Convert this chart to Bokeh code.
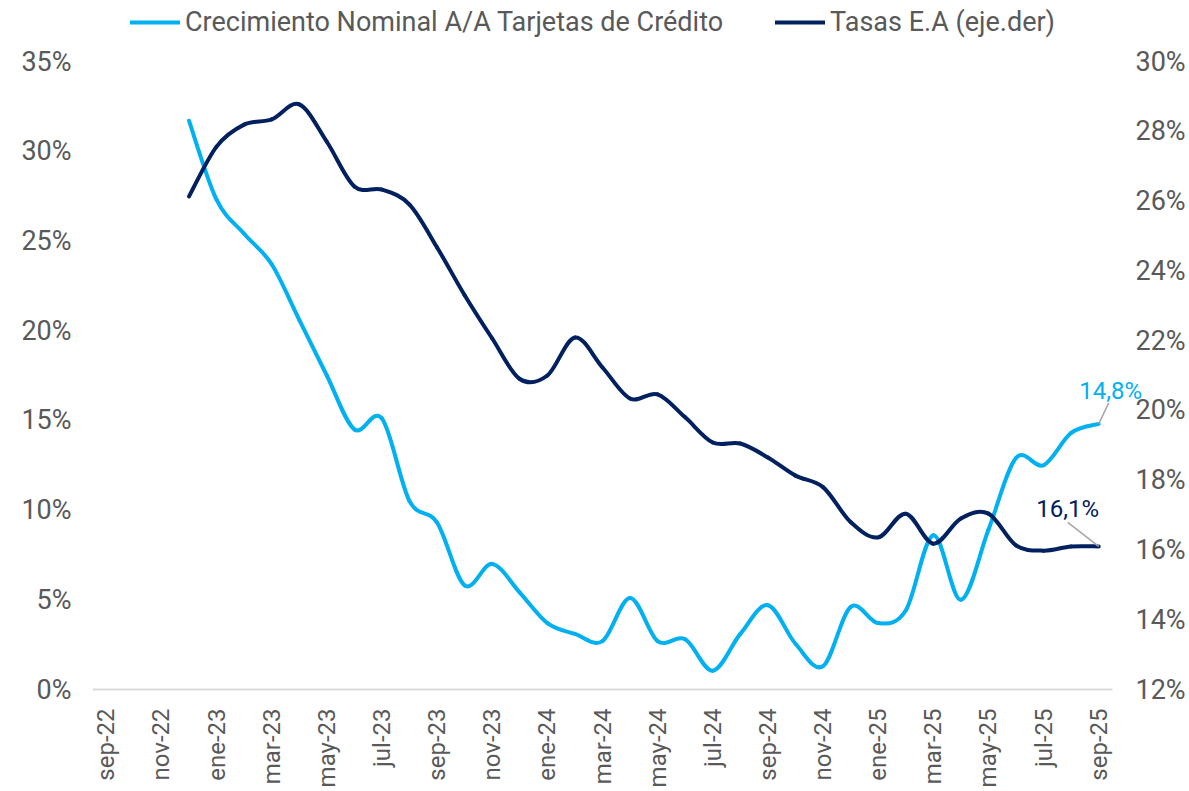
import numpy as np
from bokeh.plotting import figure
from bokeh.models import Range1d, LinearAxis, FixedTicker, PrintfTickFormatter, Legend, LegendItem
from bokeh.core.properties import value
from bokeh.embed import file_html
from bokeh.resources import INLINE

# ---------------- data ----------------
months = ["sep-22", "oct-22", "nov-22", "dic-22", "ene-23", "feb-23", "mar-23", "abr-23",
          "may-23", "jun-23", "jul-23", "ago-23", "sep-23", "oct-23", "nov-23", "dic-23",
          "ene-24", "feb-24", "mar-24", "abr-24", "may-24", "jun-24", "jul-24", "ago-24",
          "sep-24", "oct-24", "nov-24", "dic-24", "ene-25", "feb-25", "mar-25", "abr-25",
          "may-25", "jun-25", "jul-25", "ago-25", "sep-25"]
series_start = 3  # dic-22

crecimiento = [31.7, 27.3, 25.4, 23.7, 20.6, 17.5, 14.5, 15.1, 10.5, 9.3, 5.8, 7.0,
               5.4, 3.7, 3.1, 2.7, 5.1, 2.7, 2.8, 1.05, 3.1, 4.7, 2.55, 1.3,
               4.6, 3.7, 4.4, 8.6, 5.0, 8.9, 12.9, 12.5, 14.3, 14.8]

tasas = [26.13, 27.56, 28.19, 28.34, 28.77, 27.7, 26.42, 26.33, 25.9, 24.67, 23.3, 22.06,
         20.9, 21.0, 22.09, 21.23, 20.34, 20.46, 19.8, 19.08, 19.05, 18.65, 18.13, 17.8,
         16.8, 16.36, 17.04, 16.18, 16.9, 17.04, 16.13, 15.98, 16.1, 16.1]

name_a = "Crecimiento Nominal A/A Tarjetas de Crédito"
name_b = "Tasas E.A (eje.der)"

left_min, left_max = 0, 35
right_min, right_max = 12, 30
left_ticks = list(range(left_min, left_max + 1, 5))
right_ticks = list(range(right_min, right_max + 1, 2))

# ---------------- style / layout (pixels) ----------------
C_LIGHT = "#00B0F0"
C_DARK = "#002060"
TXT = "#595959"
FONT = "Roboto"

W, H = 1189, 791
AX_LEFT, AX_RIGHT, AX_TOP, AX_BOTTOM = 92, 1112, 61, 689   # visible axis box
FR_RIGHT, FR_TOP, FR_BOTTOM = 1150, 2, 691                  # drawing frame (room for labels)
ML, MR, MT, MB = AX_LEFT, W - FR_RIGHT, FR_TOP, H - FR_BOTTOM

ncat = len(months)
px_month = (AX_RIGHT - AX_LEFT) / ncat
px_left = (AX_BOTTOM - AX_TOP) / (left_max - left_min)
px_right = (AX_BOTTOM - AX_TOP) / (right_max - right_min)

x_lo = -0.5
x_hi = x_lo + (FR_RIGHT - AX_LEFT) / px_month
y_lo = left_min - (FR_BOTTOM - AX_BOTTOM) / px_left
y_hi = left_max + (AX_TOP - FR_TOP) / px_left
yr_lo = right_min - (FR_BOTTOM - AX_BOTTOM) / px_right
yr_hi = right_max + (AX_TOP - FR_TOP) / px_right

p = figure(width=W, height=H, output_backend="svg", toolbar_location=None,
           x_range=Range1d(x_lo, x_hi), y_range=Range1d(y_lo, y_hi),
           min_border_left=ML, min_border_right=MR, min_border_top=MT, min_border_bottom=MB)
p.extra_y_ranges = {"right": Range1d(yr_lo, yr_hi)}
p.outline_line_color = None
p.xgrid.visible = False
p.ygrid.visible = False
p.background_fill_color = "white"
p.border_fill_color = "white"


def smooth_segments(xs, ys):
    n = len(xs)
    d = {k: [] for k in ["x0", "y0", "x1", "y1", "cx0", "cy0", "cx1", "cy1"]}
    for i in range(n - 1):
        ip = max(i - 1, 0)
        inx = min(i + 2, n - 1)
        d["x0"].append(xs[i]); d["y0"].append(ys[i])
        d["x1"].append(xs[i + 1]); d["y1"].append(ys[i + 1])
        d["cx0"].append(xs[i] + (xs[i + 1] - xs[ip]) / 6.0)
        d["cy0"].append(ys[i] + (ys[i + 1] - ys[ip]) / 6.0)
        d["cx1"].append(xs[i + 1] - (xs[inx] - xs[i]) / 6.0)
        d["cy1"].append(ys[i + 1] - (ys[inx] - ys[i]) / 6.0)
    return d


# category baseline (horizontal axis line)
p.segment(x0=[-0.5], y0=[left_min], x1=[ncat - 0.5], y1=[left_min],
          line_color="#D9D9D9", line_width=2)

xs = list(range(series_start, series_start + len(crecimiento)))

sa = smooth_segments(xs, crecimiento)
ra = p.bezier(line_color=C_LIGHT, line_width=4, line_cap="round", line_join="round", **sa)
sb = smooth_segments(xs, tasas)
rb = p.bezier(line_color=C_DARK, line_width=4, line_cap="round", line_join="round",
              y_range_name="right", **sb)

# axes
xa = p.xaxis[0]
xa.ticker = FixedTicker(ticks=list(range(0, ncat, 2)))
xa.major_label_overrides = {i: months[i] for i in range(0, ncat, 2)}
xa.major_label_orientation = np.pi / 2
xa.axis_line_color = None
xa.major_tick_line_color = None
xa.minor_tick_line_color = None
xa.major_label_standoff = 11
xa.major_label_text_font = FONT
xa.major_label_text_font_size = "24px"
xa.major_label_text_color = TXT

ya = p.yaxis[0]
ya.ticker = FixedTicker(ticks=left_ticks)
ya.formatter = PrintfTickFormatter(format="%d%%")
ya.axis_line_color = None
ya.major_tick_line_color = None
ya.minor_tick_line_color = None
ya.major_label_standoff = 15
ya.major_label_text_font = FONT
ya.major_label_text_font_size = "27px"
ya.major_label_text_color = TXT

yr = LinearAxis(y_range_name="right", ticker=FixedTicker(ticks=right_ticks),
                formatter=PrintfTickFormatter(format="%d%%"))
yr.axis_line_color = None
yr.major_tick_line_color = None
yr.minor_tick_line_color = None
yr.major_label_standoff = -21
yr.major_label_text_font = FONT
yr.major_label_text_font_size = "27px"
yr.major_label_text_color = TXT
p.add_layout(yr, "right")

# end-of-series labels with leader lines
xl = xs[-1]
la = f"{crecimiento[-1]:.1f}".replace(".", ",") + "%"
lb = f"{tasas[-1]:.1f}".replace(".", ",") + "%"

p.segment(x0=[xl], y0=[crecimiento[-1]], x1=[xl + 10 / px_month], y1=[crecimiento[-1] + 21 / px_left],
          line_color="#A6A6A6", line_width=1.5)
p.segment(x0=[xl], y0=[tasas[-1]], x1=[xl - 31 / px_month], y1=[tasas[-1] + 24 / px_right],
          line_color="#A6A6A6", line_width=1.5, y_range_name="right")
p.text(x=[xl], y=[crecimiento[-1]], text=[la], text_font=value(FONT), text_font_size="24px",
       text_color=C_LIGHT, text_align="center", text_baseline="alphabetic",
       x_offset=12, y_offset=-33)
p.text(x=[xl], y=[tasas[-1]], text=[lb], text_font=value(FONT), text_font_size="24px",
       text_color=C_DARK, text_align="center", text_baseline="alphabetic",
       x_offset=-31, y_offset=-37, y_range_name="right")

# legend (inside the drawing frame, above the axis box)
legend = Legend(items=[LegendItem(label=name_a, renderers=[ra]),
                       LegendItem(label=name_b, renderers=[rb])],
                orientation="horizontal", location=(38, FR_BOTTOM - 38),
                glyph_width=50, glyph_height=26, label_standoff=5, spacing=52,
                padding=0, margin=0, border_line_color=None, background_fill_alpha=0,
                label_text_font=FONT, label_text_font_size="27px", label_text_color=TXT,
                label_height=26)
p.add_layout(legend, "center")

open("out.html", "w").write(file_html(p, INLINE))
